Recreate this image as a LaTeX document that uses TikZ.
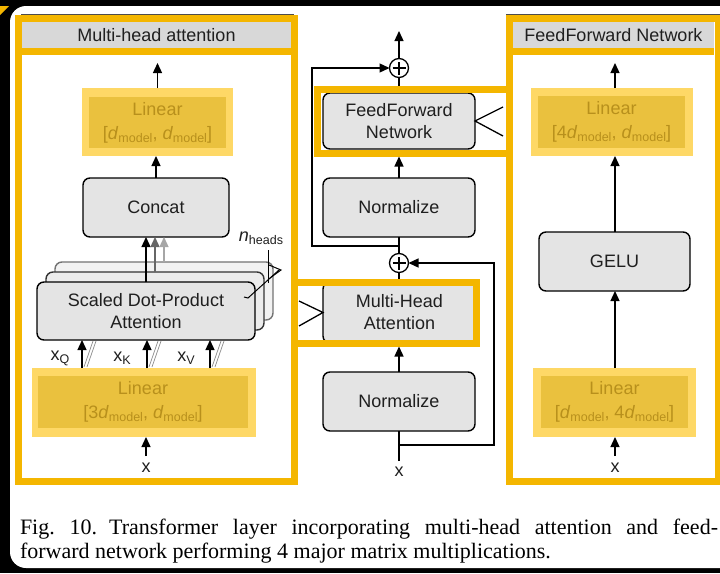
\documentclass[tikz,border=0pt]{standalone}
\usepackage{fontspec}
\setmainfont{Liberation Sans}
\newfontfamily\capfont{Liberation Serif}
\usetikzlibrary{arrows.meta}
\definecolor{frameorange}{RGB}{244,182,0}
\definecolor{hlouter}{RGB}{254,216,102}
\definecolor{hlinner}{RGB}{234,193,62}
\definecolor{hltext}{RGB}{184,144,28}
\definecolor{boxgray}{RGB}{228,228,228}
\definecolor{headgray}{RGB}{216,216,216}
\newcommand\dmod{\textit{d}\raisebox{-3pt}{\fontsize{12.5}{13}\selectfont model}}
\newcommand\subsf[1]{\raisebox{-3pt}{\fontsize{12.5}{13}\selectfont #1}}
\begin{document}
\begin{tikzpicture}[x=1pt,y=-1pt,
  every node/.style={inner sep=0pt, outer sep=0pt},
  txt/.style={font=\fontsize{18}{22}\selectfont, text=black!88},
  box/.style={draw, line width=1.4pt, rounded corners=7pt, fill=boxgray, align=center,
    font=\fontsize{18}{22}\selectfont, text=black!88},
  backbox/.style={box, fill=boxgray!60},
  head/.style={fill=headgray, font=\fontsize{18}{22}\selectfont, text=black!88},
  oframe/.style={draw=frameorange, line width=7pt, outer sep=3.5pt},
  hlo/.style={fill=hlouter},
  hli/.style={fill=hlinner, text=hltext, align=center, font=\fontsize{18}{24}\selectfont},
  ln/.style={line width=1.3pt},
  arr/.style={line width=1.3pt, -{Triangle[length=10pt,width=9pt]}},
  plus/.style={circle, draw, line width=1.3pt, fill=white, minimum size=19pt,
    path picture={\draw[line width=1.3pt]
      ([xshift=-6.5pt]path picture bounding box.center) -- ([xshift=6.5pt]path picture bounding box.center)
      ([yshift=-6.5pt]path picture bounding box.center) -- ([yshift=6.5pt]path picture bounding box.center);}},
  ghost/.style={line width=0.7pt, draw=black!45}
]
\useasboundingbox (0,0) rectangle (720,573);
% page backdrop
\fill[black] (0,0) rectangle (720,573);
\fill[white, rounded corners=16pt] (10,6) rectangle (745,568);
\fill[frameorange] (0,6) -- (9,6) -- (0,15) -- cycle;

% ---------------- left panel: multi-head attention ----------------
\node[head, minimum width=269pt, minimum height=26pt] (hd1) at (156.5,35) {Multi-head attention};
\draw[black!70, line width=0.8pt] (21,14.3) -- (294,14.3);

\node[hlo, minimum width=151pt, minimum height=68pt] (lt1o) at (157.5,122) {};
\node[hli, minimum width=137pt, minimum height=51pt] (lt1) at (157.5,122.5) {Linear\\{}[\dmod, \dmod]};

\node[box, minimum width=146pt, minimum height=59pt] (cc) at (156,207.5) {Concat};

\node[backbox, draw=black!55, fill=boxgray!50, minimum width=218pt, minimum height=58pt] (sd2) at (164,291) {};
\node[backbox, draw=black!80, fill=boxgray!70, minimum width=218pt, minimum height=58pt] (sd1) at (155,301) {};
\node[box, minimum width=218pt, minimum height=58pt] (sd0) at (146,311) {Scaled Dot-Product\\Attention};

\node[hlo, minimum width=224pt, minimum height=69pt] (lb1o) at (144,402.5) {};
\node[hli, minimum width=210pt, minimum height=52pt] (lb1) at (143,402) {Linear\\{}[3\dmod, \dmod]};

% head count marker
\node[txt] (nh) at (261,238) {\textit{n}\subsf{heads}};
\draw[line width=1pt] (268,250) -- (268,283);
\draw[line width=1pt] (244,297) -- (248,298) -- (279,270);
\draw[line width=1pt] (269,265) -- (281,270) -- (270,278);

% connectors of the left panel
\coordinate (o1) at (157.5,63);
\draw[arr] (lt1o.north) -- (o1);
\draw[arr] (cc.north) -- (lt1o.south -| cc.north);
\draw[arr] (sd0.north) -- (cc.south -| sd0.north);
\draw[arr, black!60] (sd1.north) -- (cc.south -| sd1.north);
\draw[arr, black!35] (sd2.north) -- (cc.south -| sd2.north);

\foreach \xx in {82,147,210}{
  \draw[ghost] (\xx+2,367) -- (\xx+11,341);
  \draw[ghost] (\xx+5,367) -- (\xx+14,341);
  \draw[arr] (lb1o.north -| \xx,0) -- (sd0.south -| \xx,0);
}
\node[txt] (xq) at (60,358) {x\subsf{Q}};
\node[txt] (xk) at (122,358) {x\subsf{K}};
\node[txt] (xv) at (186,358) {x\subsf{V}};

\node[txt] (x1) at (146,468) {x};
\coordinate (xin1) at (146,456);
\draw[arr] (xin1) -- (lb1o.south -| xin1);

\node[oframe, minimum width=276pt, minimum height=463pt] (p1) at (156.5,249.5) {};
\draw[frameorange, line width=7pt] ([yshift=-3.5pt]hd1.south west) -- ([yshift=-3.5pt]hd1.south east);

% ---------------- right panel: feedforward network ----------------
\node[head, minimum width=201pt, minimum height=26pt] (hd3) at (613.5,35) {FeedForward Network};
\draw[black!70, line width=0.8pt] (506,14.3) -- (720,14.3);

\node[hlo, minimum width=162pt, minimum height=68pt] (lt3o) at (612,122) {};
\node[hli, minimum width=147pt, minimum height=52pt] (lt3) at (611.5,122) {Linear\\{}[4\dmod, \dmod]};
\node[box, minimum width=151pt, minimum height=59pt] (ge) at (614.5,261.5) {GELU};
\node[hlo, minimum width=163pt, minimum height=69pt] (lb3o) at (614.5,402.5) {};
\node[hli, minimum width=147pt, minimum height=52pt] (lb3) at (614.5,402) {Linear\\{}[\dmod, 4\dmod]};

\coordinate (o3) at (615,63);
\draw[arr] (lt3o.north -| o3) -- (o3);
\draw[arr] (ge.north -| o3) -- (lt3o.south -| o3);
\draw[arr] (lb3o.north -| o3) -- (ge.south -| o3);
\node[txt] (x3) at (615,468) {x};
\coordinate (xin3) at (615,456);
\draw[arr] (xin3) -- (lb3o.south -| xin3);

\node[oframe, minimum width=209pt, minimum height=463pt] (p3) at (613.5,249.5) {};
\draw[frameorange, line width=7pt] ([yshift=-3.5pt]hd3.south west) -- ([yshift=-3.5pt]hd3.south east);

% ---------------- middle column: transformer layer ----------------
\node[box, minimum width=152pt, minimum height=56pt] (ffn) at (399,121) {FeedForward\\Network};
\node[box, minimum width=152pt, minimum height=59pt] (nu) at (399,207.5) {Normalize};
\node[box, minimum width=153pt, minimum height=61pt] (mha) at (399.5,312.5) {Multi-Head\\Attention};
\node[box, minimum width=152pt, minimum height=59pt] (nl) at (399,401.5) {Normalize};

\node[oframe, minimum width=191.5pt, minimum height=64pt] (ffnf) at (413.25,121) {};
\node[oframe, minimum width=181.5pt, minimum height=61pt] (mhaf) at (385.25,312.5) {};

\node[plus] (pl1) at (399,263) {};
\node[plus] (pl2) at (399,68) {};

\node[txt] (x2) at (399,472) {x};
\coordinate (xin) at (399,461);
\coordinate (br1) at (399,445);
\coordinate (rc1) at (494,263);
\coordinate (br2) at (399,246);
\coordinate (rc2) at (312,68);
\coordinate (o2) at (399,31);

\draw[ln] (xin) -- (nl.south);
\draw[arr] (nl.north) -- (mhaf.south -| nl.north);
\draw[ln] (mhaf.north -| pl1) -- (pl1.south);
\draw[ln] (pl1.north) -- (nu.south);
\draw[arr] (nu.north) -- (ffnf.south -| nu.north);
\draw[ln] (ffnf.north -| pl2) -- (pl2.south);
\draw[arr] (pl2.north) -- (o2);
\draw[arr] (br1) -| (rc1) -- (pl1.east);
\draw[arr] (br2) -| (rc2) -- (pl2.west);

% zoom wedges towards the detail panels
\coordinate (wa) at (503,107);
\coordinate (wb) at (503,136);
\coordinate (wc) at (299,301);
\coordinate (wd) at (299,326);
\draw[ln] (wa) -- (ffn.east) -- (wb);
\draw[ln] (wc) -- (mha.west) -- (wd);

% ---------------- caption ----------------
\node[anchor=north west, text width=698pt, align=justify,
  font=\capfont\fontsize{22}{24}\selectfont] (cap) at (20,519)
  {Fig.~10.\hspace{0.55em}Transformer layer incorporating multi-head attention and feed-\linebreak forward network performing 4 major matrix multiplications.};
\end{tikzpicture}
\end{document}
